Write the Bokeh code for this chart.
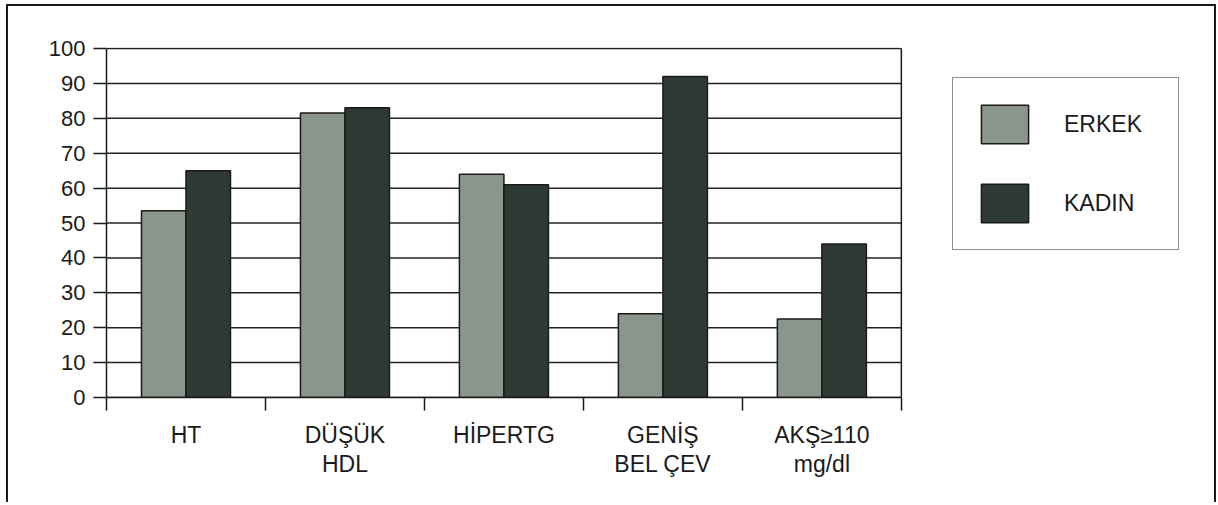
from bokeh.plotting import figure
from bokeh.models import Range1d, FixedTicker, Legend, LegendItem
from bokeh.embed import file_html
from bokeh.resources import INLINE

categories = ["HT", "DÜŞÜK\nHDL", "HİPERTG", "GENİŞ\nBEL ÇEV", "AKŞ≥110\nmg/dl"]
erkek = [53.5, 81.5, 64, 24, 22.5]
kadin = [65, 83, 61, 92, 44]
y_ticks = list(range(0, 101, 10))

FONT = "Liberation Sans"
C_ERKEK = "#8a958b"
C_KADIN = "#2e3b34"
INK = "#1a1a1a"

n = len(categories)
centers = [i + 0.5 for i in range(n)]
bounds = [float(i) for i in range(n + 1)]
bw = 0.28

# layout (pixels)
W, H = 1210, 498
LEFT, TOP, BOTTOM = 98, 41, 107
PLOT_W = 792                       # width of the bar area in px
FRAME_W = (W - 4) - LEFT           # frame spans to the right edge (legend lives there)
x_end = n * FRAME_W / PLOT_W

p = figure(width=W, height=H, output_backend="svg", toolbar_location=None,
           x_range=Range1d(0, x_end), y_range=Range1d(0, 100.3),
           min_border_left=LEFT, min_border_top=TOP, min_border_right=0, min_border_bottom=BOTTOM)
p.styles = {"border-left": "2px solid #1a1a1a", "border-right": "2px solid #1a1a1a",
            "border-top": "2px solid #1a1a1a", "margin-left": "6px", "margin-top": "4px"}
p.background_fill_color = "white"
p.border_fill_color = "white"
p.outline_line_color = None

# horizontal grid lines limited to the bar area
p.segment(x0=[0] * len(y_ticks), x1=[n] * len(y_ticks), y0=y_ticks, y1=y_ticks,
          line_color="#222222", line_width=1.5)
# right edge of the bar area
p.segment(x0=[n], x1=[n], y0=[0], y1=[100], line_color=INK, line_width=1.5)

r1 = p.vbar(x=[c - bw / 2 for c in centers], top=erkek, width=bw, bottom=0,
            fill_color=C_ERKEK, line_color=INK, line_width=1.5)
r2 = p.vbar(x=[c + bw / 2 for c in centers], top=kadin, width=bw, bottom=0,
            fill_color=C_KADIN, line_color=INK, line_width=1.5)

# y axis
p.yaxis.ticker = FixedTicker(ticks=y_ticks)
p.yaxis.bounds = (0, 100)
p.yaxis.major_tick_out = 13
p.yaxis.major_tick_in = 0
p.yaxis.minor_tick_out = 0
p.yaxis.minor_tick_in = 0
p.yaxis.axis_line_color = INK
p.yaxis.axis_line_width = 1.5
p.yaxis.major_tick_line_color = INK
p.yaxis.major_tick_line_width = 1.5
p.yaxis.major_label_text_font = FONT
p.yaxis.major_label_text_font_size = "22px"
p.yaxis.major_label_text_color = INK
p.yaxis.major_label_standoff = 8

# x axis
p.xaxis.ticker = FixedTicker(ticks=centers, minor_ticks=bounds)
p.xaxis.bounds = (0, n)
p.xaxis.major_label_overrides = {c: lab for c, lab in zip(centers, categories)}
p.xaxis.major_tick_out = 0
p.xaxis.major_tick_in = 0
p.xaxis.minor_tick_out = 13
p.xaxis.minor_tick_in = 0
p.xaxis.minor_tick_line_color = INK
p.xaxis.minor_tick_line_width = 1.5
p.xaxis.axis_line_color = INK
p.xaxis.axis_line_width = 1.5
p.xaxis.major_label_text_font = FONT
p.xaxis.major_label_text_font_size = "23px"
p.xaxis.major_label_text_color = INK
p.xaxis.major_label_text_line_height = 1.12
p.xaxis.major_label_standoff = 11

p.xgrid.visible = False
p.ygrid.visible = False

legend = Legend(items=[LegendItem(label="ERKEK", renderers=[r1]),
                       LegendItem(label="KADIN", renderers=[r2])],
                location=(846, 147), orientation="vertical",
                glyph_width=59, glyph_height=48, spacing=31, padding=22, margin=0,
                label_standoff=30, label_width=92,
                label_text_font=FONT, label_text_font_size="23px", label_text_color=INK,
                border_line_color=INK, border_line_width=1.5,
                background_fill_color="white", background_fill_alpha=1.0)
p.add_layout(legend, "center")

with open("out.html", "w") as f:
    f.write(file_html(p, INLINE))
